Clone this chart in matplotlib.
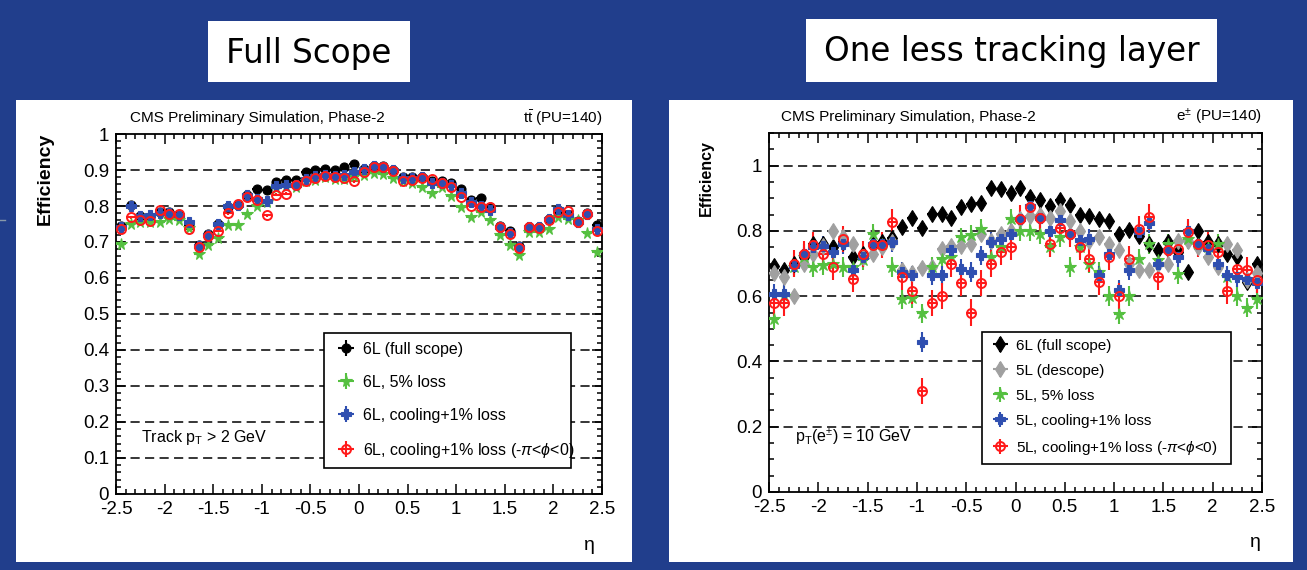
import matplotlib
matplotlib.use("Agg")
import matplotlib.pyplot as plt
from matplotlib.patches import Rectangle
from matplotlib.lines import Line2D
from matplotlib.ticker import MultipleLocator, FuncFormatter

plt.rcParams["font.family"] = ["Liberation Sans", "DejaVu Sans"]
plt.rcParams["axes.unicode_minus"] = False
plt.rcParams["mathtext.fontset"] = "custom"
plt.rcParams["mathtext.rm"] = "Liberation Sans"
plt.rcParams["mathtext.it"] = "Liberation Sans:italic"
plt.rcParams["mathtext.bf"] = "Liberation Sans:bold"

W, H = 1307, 570
BG_BLUE = "#213e8c"

# ---- data: efficiency vs eta, 50 bins of 0.1 ----
ETA = [-2.45, -2.35, -2.25, -2.15, -2.05, -1.95, -1.85, -1.75, -1.65, -1.55,
       -1.45, -1.35, -1.25, -1.15, -1.05, -0.95, -0.85, -0.75, -0.65, -0.55,
       -0.45, -0.35, -0.25, -0.15, -0.05, 0.05, 0.15, 0.25, 0.35, 0.45,
       0.55, 0.65, 0.75, 0.85, 0.95, 1.05, 1.15, 1.25, 1.35, 1.45,
       1.55, 1.65, 1.75, 1.85, 1.95, 2.05, 2.15, 2.25, 2.35, 2.45]

# left: full scope, ttbar
full_6l = [0.745, 0.802, 0.771, 0.769, 0.783, 0.783, 0.774, 0.748, 0.693, 0.721,
           0.750, 0.797, 0.804, 0.831, 0.847, 0.845, 0.866, 0.873, 0.872, 0.894,
           0.900, 0.902, 0.900, 0.907, 0.916, 0.902, 0.911, 0.911, 0.900, 0.881,
           0.881, 0.881, 0.869, 0.869, 0.864, 0.847, 0.816, 0.821, 0.796, 0.745,
           0.731, 0.688, 0.742, 0.742, 0.764, 0.788, 0.776, 0.757, 0.780, 0.748]
full_5pct = [0.695, 0.750, 0.755, 0.755, 0.755, 0.765, 0.762, 0.740, 0.667, 0.693,
             0.710, 0.748, 0.748, 0.778, 0.800, 0.810, 0.850, 0.855, 0.853, 0.869,
             0.873, 0.881, 0.875, 0.875, 0.884, 0.886, 0.891, 0.888, 0.879, 0.869,
             0.864, 0.853, 0.837, 0.853, 0.828, 0.797, 0.769, 0.784, 0.761, 0.720,
             0.693, 0.664, 0.729, 0.729, 0.735, 0.769, 0.764, 0.760, 0.724, 0.672]
full_cool = [0.742, 0.800, 0.771, 0.774, 0.780, 0.781, 0.774, 0.755, 0.689, 0.719,
             0.750, 0.799, 0.802, 0.831, 0.820, 0.815, 0.855, 0.859, 0.859, 0.875,
             0.883, 0.887, 0.883, 0.887, 0.895, 0.902, 0.911, 0.909, 0.900, 0.878,
             0.878, 0.881, 0.864, 0.864, 0.859, 0.836, 0.812, 0.800, 0.789, 0.742,
             0.726, 0.685, 0.742, 0.742, 0.764, 0.793, 0.774, 0.755, 0.778, 0.736]
full_cool_phi = [0.735, 0.769, 0.760, 0.757, 0.788, 0.778, 0.777, 0.735, 0.686, 0.717,
                 0.731, 0.780, 0.805, 0.824, 0.818, 0.774, 0.831, 0.834, 0.857, 0.869,
                 0.878, 0.883, 0.881, 0.878, 0.869, 0.894, 0.909, 0.907, 0.897, 0.869,
                 0.873, 0.878, 0.875, 0.864, 0.852, 0.824, 0.800, 0.798, 0.796, 0.742,
                 0.723, 0.683, 0.742, 0.740, 0.761, 0.783, 0.786, 0.755, 0.778, 0.731]

# right: one less layer, electrons
less_6l = [0.694, 0.679, 0.700, 0.720, 0.760, 0.760, 0.750, 0.765, 0.720, 0.730,
           0.760, 0.765, 0.777, 0.812, 0.840, 0.810, 0.851, 0.853, 0.841, 0.874,
           0.882, 0.884, 0.933, 0.927, 0.917, 0.932, 0.903, 0.894, 0.876, 0.894,
           0.879, 0.849, 0.845, 0.835, 0.831, 0.792, 0.802, 0.784, 0.759, 0.740,
           0.766, 0.735, 0.674, 0.800, 0.766, 0.760, 0.730, 0.720, 0.643, 0.700]
less_5l = [0.670, 0.660, 0.600, 0.700, 0.730, 0.755, 0.800, 0.780, 0.760, 0.720,
           0.730, 0.750, 0.765, 0.680, 0.670, 0.685, 0.690, 0.745, 0.755, 0.755,
           0.760, 0.790, 0.770, 0.790, 0.800, 0.838, 0.845, 0.850, 0.840, 0.860,
           0.830, 0.800, 0.770, 0.780, 0.760, 0.740, 0.700, 0.680, 0.680, 0.700,
           0.700, 0.770, 0.770, 0.750, 0.720, 0.690, 0.760, 0.740, 0.650, 0.670]
less_5pct = [0.530, 0.600, 0.690, 0.720, 0.690, 0.695, 0.700, 0.690, 0.690, 0.710,
             0.790, 0.760, 0.690, 0.590, 0.595, 0.547, 0.690, 0.715, 0.720, 0.780,
             0.787, 0.807, 0.720, 0.750, 0.838, 0.800, 0.800, 0.790, 0.750, 0.780,
             0.690, 0.750, 0.700, 0.674, 0.600, 0.545, 0.600, 0.715, 0.760, 0.710,
             0.760, 0.668, 0.776, 0.760, 0.750, 0.760, 0.660, 0.600, 0.565, 0.590]
less_cool = [0.607, 0.607, 0.694, 0.730, 0.750, 0.755, 0.735, 0.760, 0.680, 0.720,
             0.760, 0.760, 0.766, 0.674, 0.664, 0.460, 0.664, 0.664, 0.740, 0.683,
             0.674, 0.725, 0.766, 0.776, 0.790, 0.835, 0.876, 0.840, 0.800, 0.833,
             0.790, 0.773, 0.776, 0.664, 0.730, 0.620, 0.680, 0.797, 0.823, 0.700,
             0.740, 0.720, 0.800, 0.760, 0.745, 0.700, 0.664, 0.658, 0.653, 0.640]
less_cool_phi = [0.580, 0.578, 0.700, 0.730, 0.756, 0.730, 0.690, 0.776, 0.653, 0.730,
                 0.756, 0.756, 0.828, 0.658, 0.617, 0.310, 0.580, 0.600, 0.700, 0.640,
                 0.550, 0.640, 0.700, 0.735, 0.750, 0.838, 0.874, 0.840, 0.760, 0.810,
                 0.790, 0.750, 0.715, 0.643, 0.720, 0.600, 0.715, 0.807, 0.843, 0.658,
                 0.740, 0.745, 0.797, 0.760, 0.756, 0.735, 0.617, 0.683, 0.679, 0.650]

# statistical error per series (roughly constant)
ERR_LEFT = 0.004
ERR_RIGHT = {"black": 0.015, "gray": 0.015, "green": 0.03, "blue": 0.03, "red": 0.04}

BLACK, GRAY, GREEN, BLUE, RED = "black", "#a0a0a0", "#55c040", "#2f4fb0", "#ff1a1a"


def px_box(x0, y0, x1, y1):
    """pixel box (top-left origin) -> figure fraction rect"""
    return [x0 / W, (H - y1) / H, (x1 - x0) / W, (y1 - y0) / H]


def style_axes(ax, ymax, ymajor, yminor):
    ax.set_xlim(-2.5, 2.5)
    ax.set_ylim(0, ymax)
    ax.xaxis.set_major_locator(MultipleLocator(0.5))
    ax.xaxis.set_minor_locator(MultipleLocator(0.1))
    ax.yaxis.set_major_locator(MultipleLocator(ymajor))
    ax.yaxis.set_minor_locator(MultipleLocator(yminor))
    fmt = FuncFormatter(lambda v, p: f"{v:g}")
    ax.xaxis.set_major_formatter(fmt)
    ax.yaxis.set_major_formatter(fmt)
    ax.tick_params(which="both", direction="in", top=True, right=True, width=1.1,
                   labelsize=13.5, colors="black")
    ax.tick_params(which="major", length=7)
    ax.tick_params(which="minor", length=3.5)
    ax.tick_params(axis="x", pad=5)
    ax.tick_params(axis="y", pad=5)
    for s in ax.spines.values():
        s.set_linewidth(1.3)
    for v in range(1, 20):
        yv = v * ymajor
        if yv < ymax - 1e-6:
            ax.axhline(yv, color="black", lw=1.1, ls=(0, (6, 3.5)), zorder=1)
    # ROOT puts the "0" right in the corner; lift it a touch so it clears "-2.5"
    ax.get_yticklabels()[0].set_va("bottom")


def draw_series(ax, y, color, marker, ms, err, label, hollow=False):
    return ax.errorbar(ETA, y, yerr=err, xerr=0.05, fmt=marker, color=color,
                       ms=ms, mfc="none" if hollow else color, mec=color,
                       mew=1.4 if hollow else 0.8, elinewidth=1.5, capsize=0,
                       zorder=3, label=label)


fig = plt.figure(figsize=(W / 100, H / 100), dpi=100, facecolor=BG_BLUE)

# white panels and title boxes
for box in [(16, 100, 632, 562), (669, 100, 1293, 562), (208, 21, 410, 82), (806, 19, 1217, 82)]:
    fig.add_artist(Rectangle(px_box(*box)[:2], *px_box(*box)[2:], transform=fig.transFigure,
                             fc="white", ec="none", zorder=-10))
fig.add_artist(Line2D([0, 5 / W], [1 - 220 / H] * 2, transform=fig.transFigure, color="#8899aa", lw=1))
fig.text(309 / W, 1 - 53 / H, "Full Scope", ha="center", va="center", fontsize=23.5,
         family="DejaVu Sans", color="black")
fig.text(1011.5 / W, 1 - 52 / H, "One less tracking layer", ha="center", va="center",
         fontsize=23.5, family="DejaVu Sans", color="black")

# ---- left plot ----
axl = fig.add_axes(px_box(116, 134, 602, 494))
style_axes(axl, 1.0, 0.1, 0.02)
h1 = draw_series(axl, full_6l, BLACK, "o", 6.5, ERR_LEFT, "6L (full scope)")
h2 = draw_series(axl, full_5pct, GREEN, "*", 8.5, ERR_LEFT, "6L, 5% loss")
h3 = draw_series(axl, full_cool, BLUE, "P", 6.5, ERR_LEFT, "6L, cooling+1% loss")
h4 = draw_series(axl, full_cool_phi, RED, "o", 6.5, ERR_LEFT,
                 r"6L, cooling+1% loss (-$\pi$<$\phi$<0)", hollow=True)
leg = axl.legend(handles=[h1, h2, h3, h4], loc="upper left",
                 bbox_to_anchor=(0.428, 0.447, 0.508, 0.0), mode="expand",
                 borderaxespad=0, fancybox=False, framealpha=1, edgecolor="black",
                 fontsize=11.5, labelspacing=1.12, handlelength=1.6, handletextpad=0.3,
                 borderpad=0.55)
leg.get_frame().set_linewidth(1.2)
leg.set_zorder(5)
axl.text(0.029, 1.045, "CMS Preliminary Simulation, Phase-2", transform=axl.transAxes,
         fontsize=11, ha="left", va="center")
axl.text(1.0, 1.045, r"$\mathrm{t\bar{t}}$ (PU=140)", transform=axl.transAxes,
         fontsize=11, ha="right", va="center")
axl.text(0.051, 0.158, r"Track p$_\mathrm{T}$ > 2 GeV", transform=axl.transAxes,
         fontsize=11.5, ha="left", va="center", zorder=6)
axl.text(-0.146, 1.003, "Efficiency", transform=axl.transAxes, rotation=90,
         fontsize=14, fontweight="bold", ha="center", va="top")
axl.text(0.975, -0.142, "η", transform=axl.transAxes, fontsize=14, ha="center", va="center")

# ---- right plot ----
axr = fig.add_axes(px_box(769, 133, 1262, 492))
style_axes(axr, 1.1, 0.2, 0.05)
g1 = draw_series(axr, less_6l, BLACK, "d", 8.5, ERR_RIGHT["black"], "6L (full scope)")
g2 = draw_series(axr, less_5l, GRAY, "d", 8.5, ERR_RIGHT["gray"], "5L (descope)")
g3 = draw_series(axr, less_5pct, GREEN, "*", 9, ERR_RIGHT["green"], "5L, 5% loss")
g4 = draw_series(axr, less_cool, BLUE, "P", 7, ERR_RIGHT["blue"], "5L, cooling+1% loss")
g5 = draw_series(axr, less_cool_phi, RED, "o", 6.5, ERR_RIGHT["red"],
                 r"5L, cooling+1% loss (-$\pi$<$\phi$<0)", hollow=True)
leg = axr.legend(handles=[g1, g2, g3, g4, g5], loc="upper left",
                 bbox_to_anchor=(0.432, 0.446, 0.505, 0.0), mode="expand",
                 borderaxespad=0, fancybox=False, framealpha=1, edgecolor="black",
                 fontsize=11, labelspacing=0.72, handlelength=1.5, handletextpad=0.25,
                 borderpad=0.45)
leg.get_frame().set_linewidth(1.2)
leg.set_zorder(5)
axr.text(0.024, 1.045, "CMS Preliminary Simulation, Phase-2", transform=axr.transAxes,
         fontsize=11, ha="left", va="center")
axr.text(1.0, 1.045, r"e$^{\pm}$ (PU=140)", transform=axr.transAxes,
         fontsize=11, ha="right", va="center")
axr.text(0.053, 0.153, r"p$_\mathrm{T}$(e$^{\pm}$) = 10 GeV", transform=axr.transAxes,
         fontsize=11.5, ha="left", va="center", zorder=6)
axr.text(-0.128, 0.98, "Efficiency", transform=axr.transAxes, rotation=90,
         fontsize=11.5, fontweight="bold", ha="center", va="top")
axr.text(0.986, -0.142, "η", transform=axr.transAxes, fontsize=14, ha="center", va="center")

fig.savefig("out.png", dpi=100, facecolor=BG_BLUE)
